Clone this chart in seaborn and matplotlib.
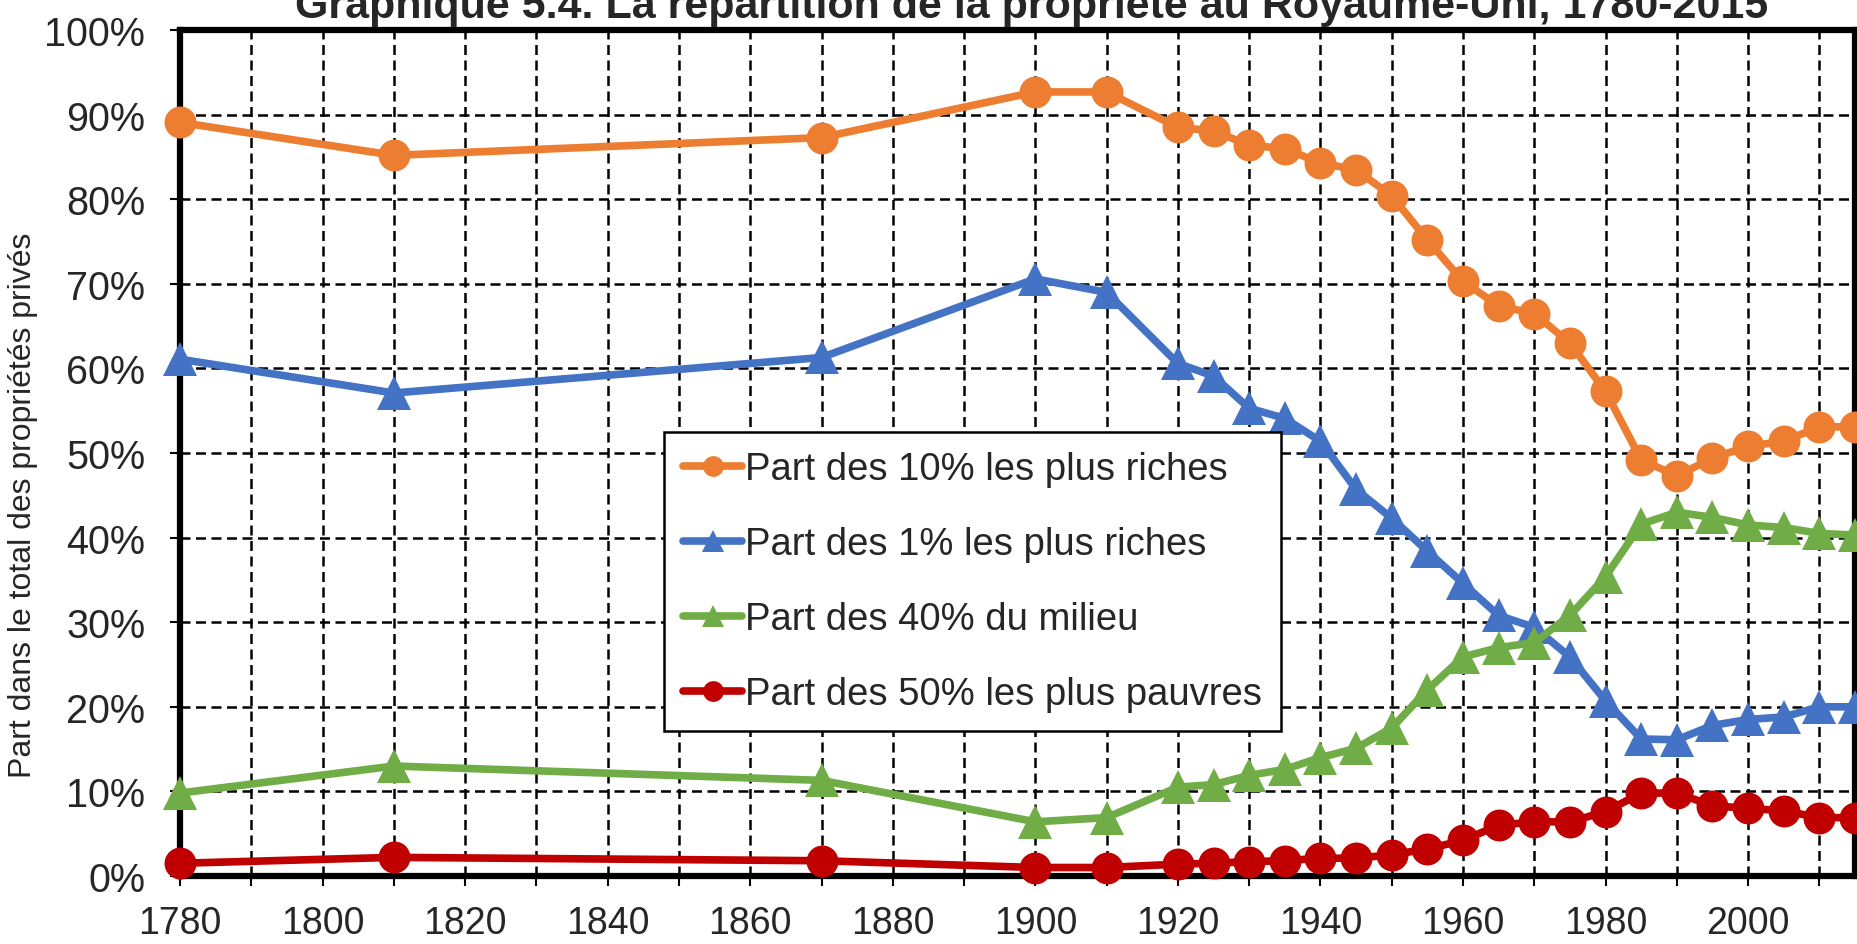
import matplotlib
matplotlib.use('Agg')
import matplotlib.pyplot as plt
import seaborn as sns
import numpy as np
import pandas as pd
from matplotlib.ticker import FuncFormatter, MultipleLocator

# donnees (part du total des proprietes privees)
annees = [1780, 1810, 1870, 1900, 1910, 1920, 1925, 1930, 1935, 1940, 1945, 1950, 1955,
          1960, 1965, 1970, 1975, 1980, 1985, 1990, 1995, 2000, 2005, 2010, 2015]
top10 = [89.1, 85.2, 87.3, 92.7, 92.7, 88.5, 88.1, 86.4, 86.0, 84.3, 83.5, 80.4, 75.2,
         70.3, 67.4, 66.5, 63.0, 57.3, 49.2, 47.3, 49.4, 50.8, 51.4, 53.1, 53.1]
top1 = [61.1, 57.1, 61.3, 70.6, 69.0, 60.6, 59.1, 55.3, 54.1, 51.4, 45.7, 42.3, 38.4,
        34.6, 30.8, 29.4, 25.9, 20.7, 16.2, 16.1, 17.8, 18.5, 18.8, 20.0, 20.0]
milieu40 = [9.8, 13.0, 11.3, 6.4, 6.9, 10.5, 10.8, 11.9, 12.6, 14.0, 15.1, 17.5, 22.0,
            25.9, 27.0, 27.6, 30.8, 35.4, 41.6, 43.0, 42.4, 41.5, 41.2, 40.5, 40.3]
bas50 = [1.5, 2.2, 1.8, 1.0, 1.0, 1.4, 1.5, 1.7, 1.8, 2.1, 2.1, 2.5, 3.2,
         4.2, 6.0, 6.4, 6.4, 7.6, 9.8, 9.8, 8.3, 8.0, 7.7, 6.9, 6.9]

series = [('Part des 10% les plus riches', top10, '#ED7D31', 'o'),
          ('Part des 1% les plus riches', top1, '#4472C4', '^'),
          ('Part des 40% du milieu', milieu40, '#70AD47', '^'),
          ('Part des 50% les plus pauvres', bas50, '#C00000', 'o')]

sns.set_style('white')
plt.rcParams['font.family'] = ['Liberation Sans', 'DejaVu Sans']

fig = plt.figure(figsize=(18.58, 9.45), dpi=100)
ax = fig.add_axes([0.0969, 0.072, 0.9015, 0.895])

for nom, vals, col, mk in series:
    df = pd.DataFrame({'annee': annees, 'part': np.array(vals) / 100})
    sns.lineplot(data=df, x='annee', y='part', ax=ax, color=col, linewidth=5.5,
                 marker=mk, markersize=23 if mk == 'o' else 25, markeredgecolor=col,
                 markeredgewidth=0, label=nom, clip_on=False, zorder=3)

ax.set_xlim(1780, 2015)
ax.set_ylim(0, 1)
ax.xaxis.set_major_locator(MultipleLocator(10))
ax.yaxis.set_major_locator(MultipleLocator(0.1))
ax.xaxis.set_major_formatter(FuncFormatter(lambda v, p: '%d' % v if int(v) % 20 == 0 else ''))
ax.yaxis.set_major_formatter(FuncFormatter(lambda v, p: '%d%%' % round(v * 100)))
ax.tick_params(axis='both', direction='out', length=7, width=1.5, color='black',
               bottom=True, left=True)
ax.tick_params(axis='x', pad=14, labelsize=27)
ax.tick_params(axis='y', pad=18, labelsize=28.5)

ax.grid(True, color='black', linestyle=(0, (4, 2.2)), linewidth=1.8, zorder=1)
for s in ax.spines.values():
    s.set_color('black')
    s.set_linewidth(4.5)

ax.set_xlabel('')
ax.set_ylabel('Part dans le total des propriétés privés', fontsize=23)
ax.yaxis.set_label_coords(-0.085, 0.44)

leg = ax.legend(loc='upper left', bbox_to_anchor=(0.289, 0.525),
                fontsize=27.5, frameon=True, fancybox=False, edgecolor='black', framealpha=1,
                handlelength=1.55, handletextpad=0.08, labelspacing=1.02, borderpad=0.5,
                borderaxespad=0, markerscale=0.65)
leg.get_frame().set_linewidth(1.8)
leg.set_zorder(5)

fig.text(0.555, 1 - 18 / 945, 'Graphique 5.4. La répartition de la propriété au Royaume-Uni, 1780-2015',
         ha='center', va='baseline', fontsize=31, fontweight='bold')

plt.savefig('out.png', dpi=100)
